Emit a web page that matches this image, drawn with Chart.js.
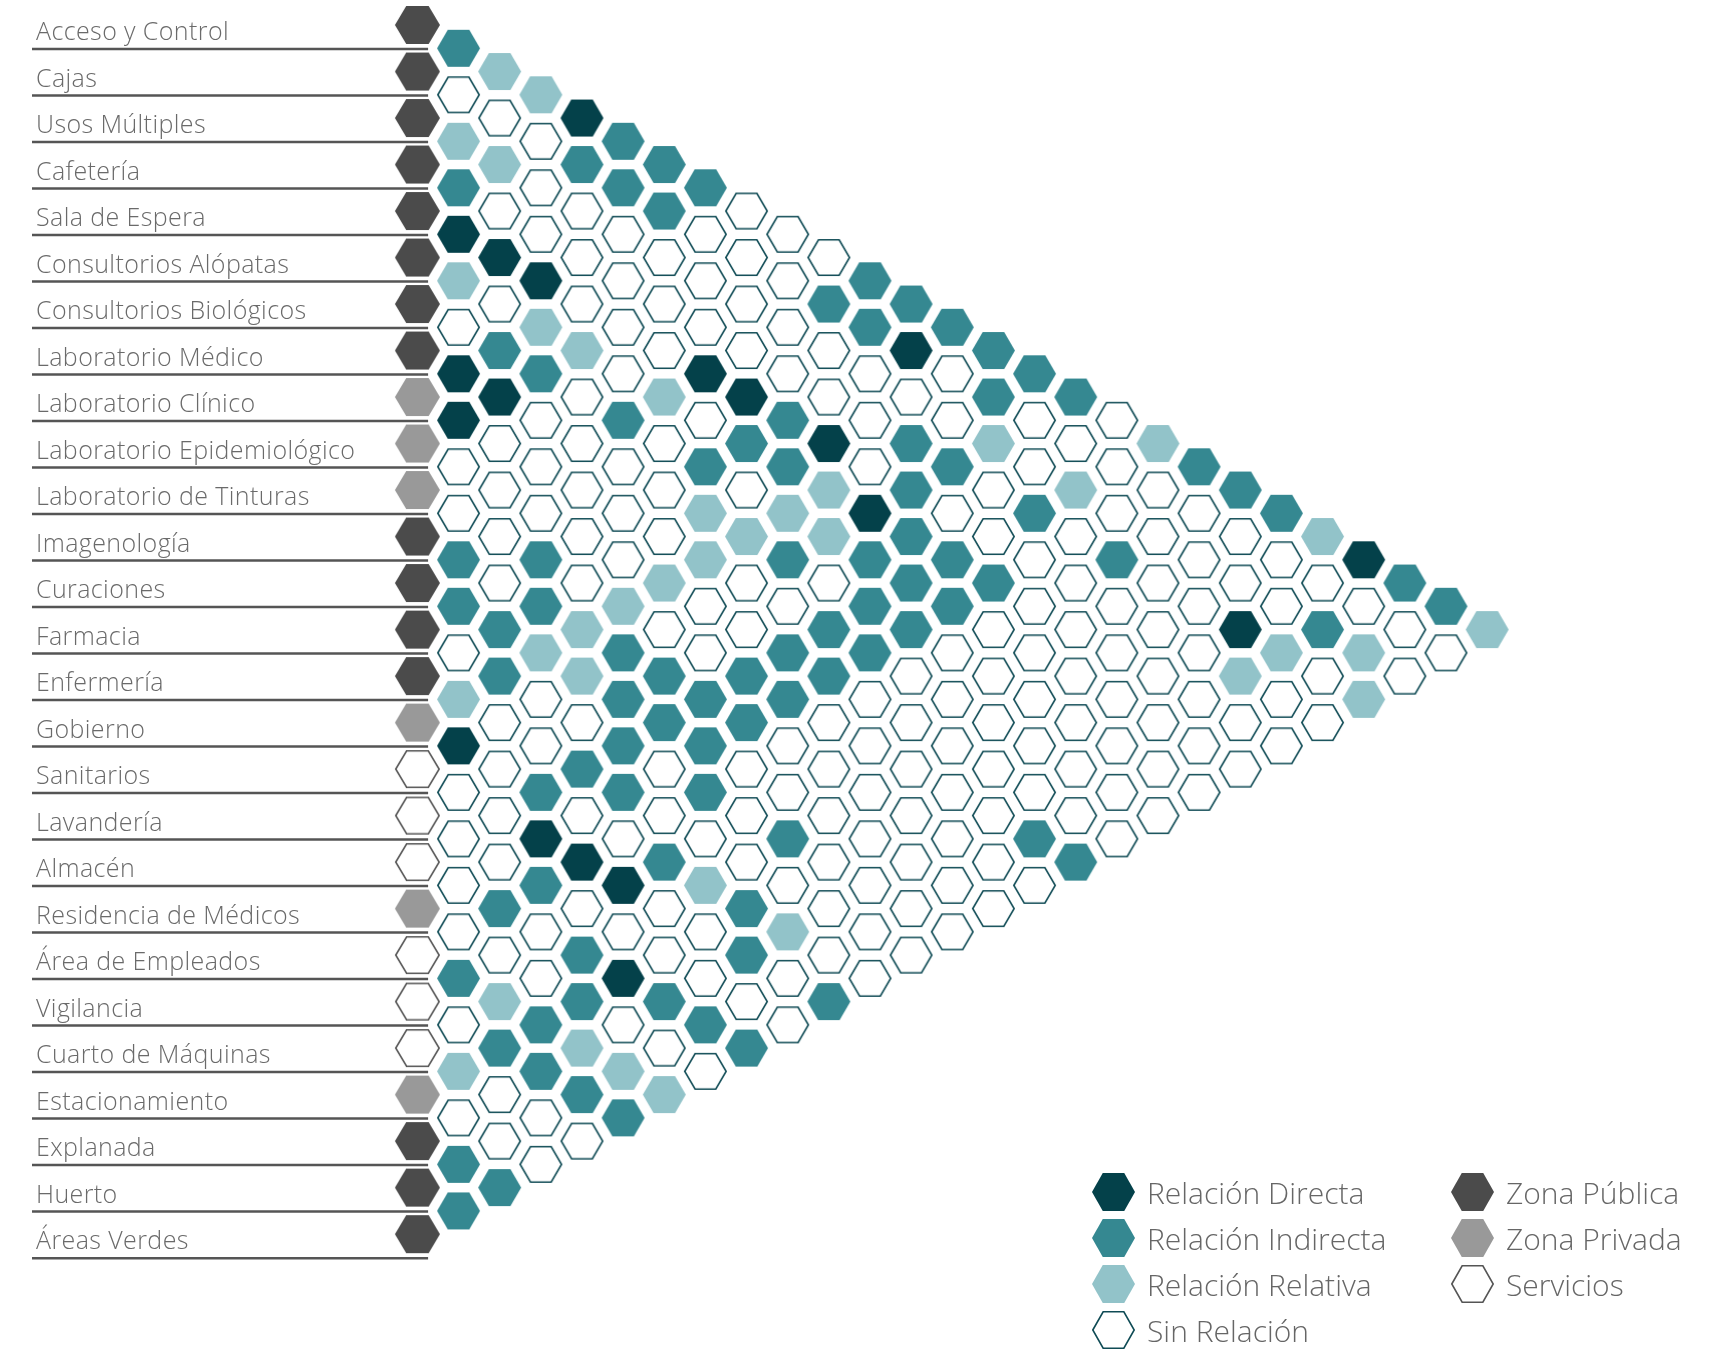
<!DOCTYPE html>
<html lang="es">
<head>
<meta charset="utf-8">
<title>Matriz de relaciones</title>
<script src="https://cdn.jsdelivr.net/npm/chart.js@4.4.1/dist/chart.umd.min.js"></script>
<style>
  html, body { margin: 0; padding: 0; background: #fff; }
  #wrap { position: relative; width: 1712px; height: 1349px; }
  #leyenda { position: absolute; left: 0; top: 0; font-family: "Open Sans", Lato, sans-serif; font-weight: 300; color: #666; font-size: 30px; }
  .item { position: absolute; display: flex; align-items: center; height: 40px; white-space: nowrap; }
  .item canvas { margin-right: 10px; }
</style>
</head>
<body>
<div id="wrap">
  <canvas id="matriz" width="1712" height="1349"></canvas>
  <div id="leyenda"></div>
</div>
<script>
// areas del programa, en orden
const areas = [
  'Acceso y Control', 'Cajas', 'Usos Múltiples', 'Cafetería', 'Sala de Espera',
  'Consultorios Alópatas', 'Consultorios Biológicos', 'Laboratorio Médico',
  'Laboratorio Clínico', 'Laboratorio Epidemiológico', 'Laboratorio de Tinturas',
  'Imagenología', 'Curaciones', 'Farmacia', 'Enfermería', 'Gobierno', 'Sanitarios',
  'Lavandería', 'Almacén', 'Residencia de Médicos', 'Área de Empleados', 'Vigilancia',
  'Cuarto de Máquinas', 'Estacionamiento', 'Explanada', 'Huerto', 'Áreas Verdes'
];

// zona de cada area: P publica, V privada, S servicios
const zonas = [
  'P', 'P', 'P', 'P', 'P', 'P', 'P', 'P', 'V', 'V', 'V', 'P', 'P', 'P',
  'P', 'V', 'S', 'S', 'S', 'V', 'S', 'S', 'S', 'V', 'P', 'P', 'P'
];

// relacion de cada area con las siguientes
// D directa, I indirecta, L relativa, N sin relacion
const relaciones = [
  'ILLDIIINNNIIIIIINLIIILDIIL',
  'NNNIIINNNIIDNINNNNNNNNNNN',
  'LLNNNNNNNNNNNLNLNNNNNILN',
  'INNNNNNNNNNIINININNDLNL',
  'DDDNNNDDIDNINNNNNNNLNN',
  'LNLLNLNIILDIIINNNNNNN',
  'NIINININLLIIINNNNNNN',
  'DDNNNNLLINIINNNNNNN',
  'DNNNNNLNNIINNNNNNN',
  'NNNNNLNNIINNNNNNN',
  'NNINLNNIINNNNNII',
  'INILIIIINNNNNNN',
  'IILLIIINNNNNNN',
  'NINNINININNNN',
  'LNNIINNNNNNN',
  'DNINNILILNN',
  'NNDDDNNINI',
  'NNINNNNNN',
  'NINIDIII',
  'NNNINNN',
  'ILILLL',
  'NIIII',
  'LNNN',
  'NNN',
  'II',
  'I'
];

const tiposRelacion = ['D', 'I', 'L', 'N'];
const nombresRelacion = ['Relación Directa', 'Relación Indirecta', 'Relación Relativa', 'Sin Relación'];
const tiposZona = ['P', 'V', 'S'];
const nombresZona = ['Zona Pública', 'Zona Privada', 'Servicios'];

const colores = {
  D: { fill: '#04414a' },
  I: { fill: '#358891' },
  L: { fill: '#92c3c9' },
  N: { fill: '#ffffff', stroke: '#0f4b55' },
  P: { fill: '#4b4b4b' },
  V: { fill: '#999999' },
  S: { fill: '#ffffff', stroke: '#555555' }
};

// hexagono con vertices a izquierda y derecha, en un canvas para usarlo como pointStyle
function hexagono(w, h, estilo) {
  const c = document.createElement('canvas');
  c.width = Math.ceil(w) + 4;
  c.height = Math.ceil(h) + 4;
  const g = c.getContext('2d');
  const cx = c.width / 2, cy = c.height / 2;
  const lw = estilo.stroke ? 1.6 : 0;
  const rw = w / 2 - lw / 2, rh = h / 2 - lw / 2;
  g.beginPath();
  g.moveTo(cx - rw, cy);
  g.lineTo(cx - rw / 2, cy - rh);
  g.lineTo(cx + rw / 2, cy - rh);
  g.lineTo(cx + rw, cy);
  g.lineTo(cx + rw / 2, cy + rh);
  g.lineTo(cx - rw / 2, cy + rh);
  g.closePath();
  g.fillStyle = estilo.fill;
  g.fill();
  if (estilo.stroke) {
    g.lineWidth = lw;
    g.strokeStyle = estilo.stroke;
    g.stroke();
  }
  return c;
}

const datasets = [];
tiposRelacion.forEach(function (t, k) {
  const puntos = [];
  relaciones.forEach(function (fila, i) {
    for (let n = 0; n < fila.length; n++) {
      if (fila[n] !== t) continue;
      const j = i + 1 + n;
      puntos.push({ x: j - i, y: (i + j) / 2 });
    }
  });
  datasets.push({
    label: nombresRelacion[k],
    data: puntos,
    pointStyle: hexagono(43, 37, colores[t]),
    clip: false
  });
});
tiposZona.forEach(function (t, k) {
  const puntos = [];
  zonas.forEach(function (z, i) {
    if (z === t) puntos.push({ x: 0, y: i });
  });
  datasets.push({
    label: nombresZona[k],
    data: puntos,
    pointStyle: hexagono(45, 38, colores[t]),
    clip: false
  });
});

// lineas bajo cada nombre de area (y un poco de espacio entre letras, como la tipografia original)
const lineasAreas = {
  id: 'lineasAreas',
  beforeDraw(chart) {
    chart.ctx.letterSpacing = '0.4px';
  },
  beforeDatasetsDraw(chart) {
    const ctx = chart.ctx;
    const x = chart.scales.x, y = chart.scales.y;
    ctx.save();
    ctx.strokeStyle = '#555';
    ctx.lineWidth = 2.5;
    areas.forEach(function (a, i) {
      const py = y.getPixelForValue(i + 0.516);
      ctx.beginPath();
      ctx.moveTo(y.left - 4, py);
      ctx.lineTo(x.getPixelForValue(0.26), py);
      ctx.stroke();
    });
    ctx.restore();
  }
};

const ctx = document.getElementById('matriz').getContext('2d');
new Chart(ctx, {
  type: 'scatter',
  data: { datasets: datasets },
  plugins: [lineasAreas],
  options: {
    responsive: false,
    animation: false,
    events: [],
    layout: { padding: { left: 36, top: 20, right: 0, bottom: 20 } },
    plugins: {
      legend: { display: false },
      tooltip: { enabled: false }
    },
    scales: {
      x: {
        type: 'linear',
        display: false,
        min: -0.593,
        max: 31.344
      },
      y: {
        type: 'linear',
        reverse: true,
        position: 'left',
        min: -0.1075,
        max: 28.04,
        grid: { display: false },
        border: { display: false },
        afterBuildTicks: function (s) {
          s.ticks = areas.map(function (a, i) { return { value: i }; });
        },
        afterFit: function (s) { s.width = 357; },
        ticks: {
          autoSkip: false,
          crossAlign: 'far',
          labelOffset: 8,
          padding: 0,
          color: '#6a6a6a',
          font: { family: "'Open Sans', Lato, sans-serif", size: 25, weight: '300' },
          callback: function (v) { return areas[v]; }
        }
      }
    }
  }
});

// leyenda
const leyenda = document.getElementById('leyenda');
function itemLeyenda(nombre, estilo, left, top) {
  const d = document.createElement('div');
  d.className = 'item';
  d.style.left = left + 'px';
  d.style.top = top + 'px';
  d.appendChild(hexagono(43, 38, estilo));
  const s = document.createElement('span');
  s.textContent = nombre;
  d.appendChild(s);
  leyenda.appendChild(d);
}
tiposRelacion.forEach(function (t, k) {
  itemLeyenda(nombresRelacion[k], colores[t], 1090, 1172 + k * 46);
});
tiposZona.forEach(function (t, k) {
  itemLeyenda(nombresZona[k], colores[t], 1449, 1172 + k * 46);
});
</script>
</body>
</html>
